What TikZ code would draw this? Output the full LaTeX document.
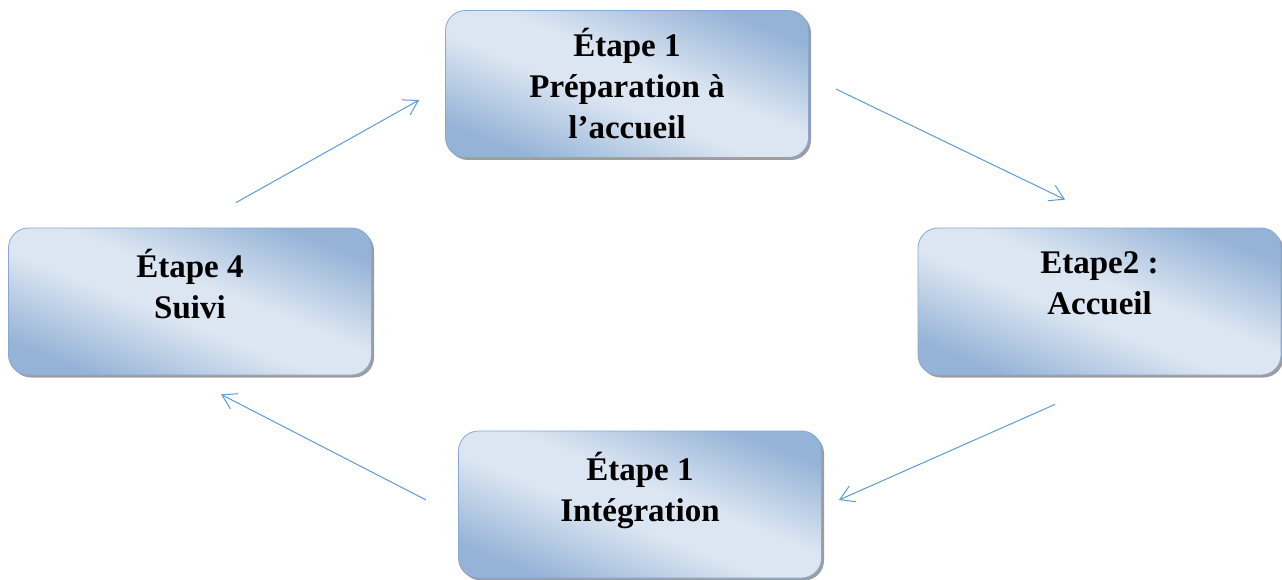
\documentclass[tikz,border=0pt]{standalone}
\usepackage{fontspec}
\setmainfont{Liberation Serif}
\usetikzlibrary{arrows.meta,positioning,calc,shadows}
\definecolor{boxLight}{HTML}{DCE6F2}
\definecolor{boxDark}{HTML}{95B3D7}
\definecolor{boxLine}{HTML}{86A8D4}
\definecolor{flowC}{HTML}{5B9BD5}
\pgfdeclareverticalshading{stepshade}{100bp}{color(0bp)=(boxDark); color(25bp)=(boxDark);
  color(45bp)=(boxLight); color(55bp)=(boxLight); color(75bp)=(boxDark); color(100bp)=(boxDark)}
\tikzset{>={Straight Barb[length=14pt,width=17pt]},
  stepbox/.style={draw=boxLine,line width=0.8pt,rounded corners=20pt,
    shading=stepshade,shading angle=-22,
    drop shadow={shadow xshift=2.5pt,shadow yshift=-2.5pt,fill=black!55,opacity=0.7},
    minimum width=363pt,minimum height=147pt,inner sep=0pt,align=center,
    font=\fontsize{33}{41}\selectfont\bfseries,text=black},
  twoline/.style={text depth=36pt},
  flow/.style={->,flowC,line width=1pt}}
\begin{document}
\begin{tikzpicture}[x=1pt,y=-1pt]
\useasboundingbox (0,0) rectangle (1282,580);
\node[stepbox] (prep) at (627,84) {Étape 1\\Préparation à\\l’accueil};
\node[stepbox,twoline] (suivi) at (190,301.5) {Étape 4\\Suivi};
\node[stepbox,twoline] (accueil) at (1099.5,301.5) {Etape2 :\\Accueil};
\node[stepbox,twoline] (integ) at (640,504.5) {Étape 1\\Intégration};
\draw[flow] ([xshift=46pt,yshift=25pt]suivi.north) -- ([xshift=-26pt,yshift=-16pt]prep.west);
\draw[flow] ([xshift=27pt,yshift=-5pt]prep.east) -- ([xshift=-34.5pt,yshift=28pt]accueil.north);
\draw[flow] ([xshift=-44.5pt,yshift=-29pt]accueil.south) -- ([xshift=17pt,yshift=4.5pt]integ.east);
\draw[flow] ([xshift=-32pt,yshift=4.5pt]integ.west) -- ([xshift=31pt,yshift=-19pt]suivi.south);
\end{tikzpicture}
\end{document}
